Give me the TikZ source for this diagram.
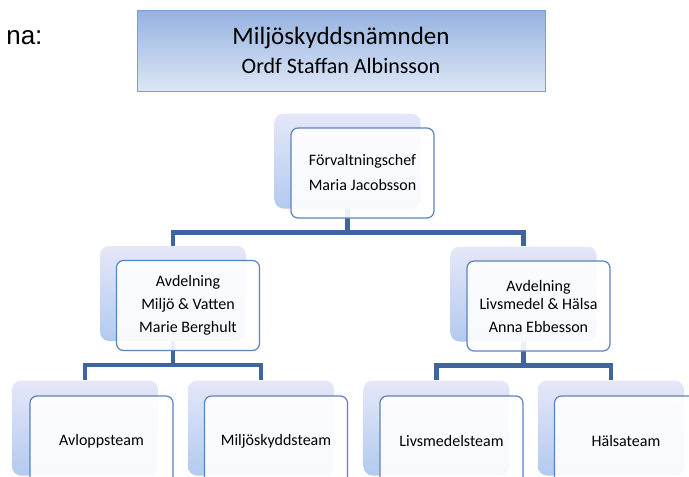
\documentclass[tikz,border=0pt]{standalone}
\usepackage{fontspec}
\setmainfont{Carlito}
\newfontfamily\arialfont{Liberation Sans}

\definecolor{connblue}{HTML}{3F64A0}
\definecolor{boxedge}{HTML}{5B83BF}
\definecolor{shadowtop}{HTML}{E6E7F8}
\definecolor{shadowbot}{HTML}{B2CAF0}
\definecolor{boardtop}{HTML}{95B2E0}
\definecolor{boardbot}{HTML}{DDE6F5}
\definecolor{boardedge}{HTML}{7C9ED5}

\begin{document}
\begin{tikzpicture}[
            x=1pt, y=-1pt,
            board/.style={draw=boardedge, line width=1pt, top color=boardtop, bottom color=boardbot,
              minimum width=408pt, minimum height=81pt, inner sep=0pt, align=center,
              font=\fontsize{25}{29}\selectfont},
            shadow box/.style={rounded corners=9pt, top color=shadowtop, bottom color=shadowbot,
              minimum width=146pt, minimum height=95pt, inner sep=0pt},
            front box/.style={draw=boxedge, line width=1.2pt, rounded corners=7pt, fill=white,
              fill opacity=0.9, text opacity=1, minimum width=143pt, minimum height=90pt,
              inner sep=0pt, align=center, font=\fontsize{16}{23}\selectfont},
            conn/.style={draw=connblue, line width=4.5pt},
            ]
            \useasboundingbox (0,0) rectangle (689,477);
            \clip (0,0) rectangle (689,477);

            \node[font=\arialfont\fontsize{26}{30}\selectfont, anchor=base east] (cut) at (46,44) {na:};
            \node[board] (board) at (341,50.5) {Miljöskyddsnämnden\\
              {\fontsize{22}{26}\selectfont Ordf Staffan Albinsson}};

            % shadows
            \node[shadow box] (fcs) at (347.5,161) {};
            \node[shadow box] (av1s) at (173,293.5) {};
            \node[shadow box] (av2s) at (523.5,294) {};
            \node[shadow box] (avls) at (85,428) {};
            \node[shadow box] (mils) at (261,428) {};
            \node[shadow box] (livs) at (436.5,428) {};
            \node[shadow box] (hals) at (611,428) {};

            \draw[conn] (fcs.south) -- ++(0,24) coordinate (bus1) -| (av1s.north);
            \draw[conn] (bus1) -| (av2s.north);
            \draw[conn] (av1s.south) -- ++(0,24) coordinate (bus2) -| (avls.north);
            \draw[conn] (bus2) -| (mils.north);
            \draw[conn] (av2s.south) -- ++(0,24) coordinate (bus3) -| (livs.north);
            \draw[conn] (bus3) -| (hals.north);

            \node[front box, font=\fontsize{16}{25}\selectfont] (fc) at (362.5,173) {Förvaltningschef\\Maria Jacobsson};
            \node[front box] (av1) at (188,305.5) {Avdelning\\Miljö \& Vatten\\Marie Berghult};
            \node[front box] (av2) at (538.5,306) {Avdelning\\[-5pt]Livsmedel \& Hälsa\\Anna Ebbesson};
            \node[front box] (avl) at (101.5,441) {Avloppsteam};
            \node[front box] (mil) at (276,441) {Miljöskyddsteam};
            \node[front box] (liv) at (451.5,441) {Livsmedelsteam};
            \node[front box] (hal) at (626,441) {Hälsateam};
        \end{tikzpicture}
\end{document}
